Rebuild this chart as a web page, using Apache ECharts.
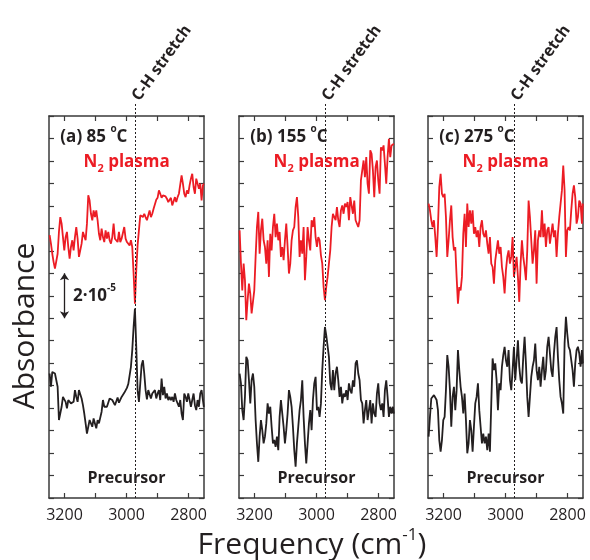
<!DOCTYPE html>
<html>
<head>
<meta charset="utf-8">
<script src="https://cdn.jsdelivr.net/npm/echarts@6/dist/echarts.min.js"></script>
<style>
  html, body { margin: 0; padding: 0; background: #fff; }
  #chart { width: 590px; height: 560px; }
</style>
</head>
<body>
<div id="chart"></div>
<script>
// wavenumber grid (cm-1), shared by every spectrum
const freq = [
  3248.0, 3243.7, 3239.4, 3235.1, 3230.8, 3226.5, 3222.2, 3217.9, 3213.6, 3209.3,
  3205.0, 3200.7, 3196.4, 3192.1, 3187.8, 3183.5, 3179.2, 3174.9, 3170.6, 3166.3,
  3162.0, 3157.7, 3153.4, 3149.1, 3144.8, 3140.5, 3136.2, 3131.9, 3127.6, 3123.3,
  3119.0, 3114.7, 3110.4, 3106.1, 3101.8, 3097.5, 3093.2, 3088.9, 3084.6, 3080.3,
  3076.0, 3071.7, 3067.4, 3063.1, 3058.8, 3054.5, 3050.2, 3045.9, 3041.6, 3037.3,
  3033.0, 3028.7, 3024.4, 3020.1, 3015.8, 3011.5, 3007.2, 3002.9, 2998.6, 2994.3,
  2990.0, 2985.7, 2981.4, 2977.1, 2972.8, 2968.5, 2964.2, 2959.9, 2955.6, 2951.3,
  2947.0, 2942.7, 2938.4, 2934.1, 2929.8, 2925.5, 2921.2, 2916.9, 2912.6, 2908.3,
  2904.0, 2899.7, 2895.4, 2891.1, 2886.8, 2882.5, 2878.2, 2873.9, 2869.6, 2865.3,
  2861.0, 2856.7, 2852.4, 2848.1, 2843.8, 2839.5, 2835.2, 2830.9, 2826.6, 2822.3,
  2818.0, 2813.7, 2809.4, 2805.1, 2800.8, 2796.5, 2792.2, 2787.9, 2783.6, 2779.3,
  2775.0, 2770.7, 2766.4, 2762.1, 2757.8, 2753.5, 2750.5
];

// absorbance, units of 1e-6, vertically offset for display
const plasmaA = [
  117.0, 113.2, 108.7, 105.0, 102.1, 102.8, 108.7, 118.4, 125.0, 122.1,
  116.1, 110.2, 116.1, 118.4, 111.7, 106.5, 111.7, 114.7, 110.2, 116.1,
  120.6, 115.4, 107.3, 106.5, 113.2, 118.4, 119.1, 114.7, 122.1, 134.7,
  132.4, 126.5, 123.6, 128.0, 125.0, 128.0, 123.6, 117.6, 114.7, 119.9,
  116.1, 113.9, 119.1, 115.4, 118.4, 114.7, 113.2, 116.1, 122.1, 115.4,
  115.4, 113.9, 118.4, 113.9, 115.4, 115.4, 120.6, 115.4, 113.9, 113.2,
  112.4, 114.7, 111.7, 99.9, 86.5, 101.3, 112.4, 119.1, 125.8, 125.0,
  125.0, 126.5, 125.0, 123.6, 124.3, 128.0, 125.0, 126.5, 128.7, 129.5,
  132.7, 133.6, 136.9, 135.4, 133.6, 134.7, 134.7, 134.2, 133.2, 131.7,
  132.4, 133.6, 130.2, 129.5, 133.9, 131.7, 133.9, 135.4, 135.4, 143.6,
  139.9, 135.4, 133.9, 136.9, 135.4, 139.1, 142.1, 144.3, 138.4, 135.4,
  142.1, 139.9, 137.6, 139.9, 132.4, 139.1, 139.9
];
const precursorA = [
  55.4, 49.5, 56.1, 56.9, 55.4, 55.4, 49.5, 34.7, 34.7, 40.6,
  45.0, 45.8, 42.8, 39.9, 43.6, 43.6, 42.1, 41.3, 42.8, 48.0,
  45.0, 42.8, 48.0, 48.0, 44.3, 41.3, 37.6, 33.2, 28.7, 28.7,
  34.7, 33.9, 31.7, 35.4, 33.2, 31.0, 34.7, 33.2, 32.4, 38.4,
  43.6, 40.6, 39.9, 40.6, 40.6, 44.3, 43.6, 43.6, 43.9, 41.3,
  42.1, 44.7, 42.4, 42.8, 45.0, 45.8, 46.8, 46.2, 49.0, 50.7,
  51.0, 58.4, 65.8, 76.1, 84.3, 67.3, 48.0, 42.8, 51.0, 59.1,
  61.3, 55.4, 48.0, 43.9, 48.0, 47.3, 44.3, 46.5, 45.8, 48.0,
  44.3, 46.5, 48.0, 43.6, 53.2, 45.8, 49.5, 44.3, 46.5, 43.6,
  45.0, 43.6, 45.0, 42.8, 46.5, 43.6, 44.3, 40.6, 43.6, 37.6,
  34.7, 46.5, 45.0, 42.8, 46.5, 43.6, 40.6, 43.6, 46.5, 41.3,
  39.1, 43.6, 40.6, 46.5, 48.0, 43.6, 40.6
];
const plasmaB = [
  119.1, 104.3, 92.4, 104.3, 96.9, 79.1, 88.0, 95.4, 91.0, 82.1,
  82.8, 92.4, 107.3, 120.6, 127.3, 108.7, 119.1, 124.3, 114.7, 111.7,
  104.3, 114.7, 98.4, 117.6, 110.2, 120.6, 126.5, 116.1, 122.1, 114.7,
  118.4, 107.3, 111.7, 105.8, 114.7, 122.1, 111.7, 99.9, 104.3, 114.7,
  119.1, 120.6, 129.5, 133.9, 125.0, 107.3, 114.7, 108.7, 120.6, 96.9,
  107.3, 120.6, 114.7, 110.2, 123.6, 120.6, 125.0, 116.1, 111.7, 116.1,
  114.7, 108.0, 104.3, 93.9, 88.0, 93.9, 98.4, 104.3, 110.2, 120.6,
  126.5, 126.5, 123.6, 129.5, 123.6, 120.6, 128.0, 130.2, 126.5, 131.0,
  129.5, 131.7, 123.6, 133.9, 130.2, 126.5, 132.4, 123.6, 123.6, 120.6,
  123.6, 141.3, 145.8, 150.2, 142.8, 151.7, 139.9, 135.4, 154.7, 153.2,
  145.8, 133.9, 147.3, 150.2, 141.3, 135.4, 156.1, 154.7, 156.9, 148.7,
  139.9, 151.7, 159.9, 151.7, 156.9, 156.1, 157.6
];
const precursorB = [
  55.4, 51.0, 39.1, 34.7, 45.0, 62.8, 61.3, 52.4, 42.1, 52.4,
  55.4, 49.5, 34.7, 24.3, 16.1, 27.3, 34.7, 30.2, 24.3, 27.3,
  33.2, 42.1, 37.6, 40.6, 31.7, 24.3, 25.8, 22.8, 27.3, 21.3,
  36.1, 43.6, 37.6, 31.7, 24.3, 30.2, 37.6, 48.0, 45.0, 40.6,
  31.7, 21.3, 13.9, 24.3, 31.7, 39.1, 43.6, 52.4, 36.1, 24.3,
  15.4, 24.3, 33.2, 39.1, 30.2, 43.6, 51.0, 53.9, 39.1, 40.6,
  36.1, 42.1, 56.9, 67.3, 76.1, 72.4, 71.7, 62.8, 51.0, 48.0,
  56.9, 48.0, 55.4, 58.4, 52.4, 45.0, 49.5, 42.1, 46.5, 45.0,
  48.0, 43.6, 51.0, 48.0, 46.5, 52.4, 49.5, 59.9, 61.3, 55.4,
  52.4, 43.6, 42.1, 33.2, 39.1, 43.6, 34.7, 39.1, 43.6, 33.2,
  42.1, 37.6, 36.1, 46.5, 51.0, 42.1, 39.1, 42.1, 36.1, 48.0,
  52.4, 45.0, 36.1, 40.6, 37.6, 40.6, 37.6
];
const plasmaC = [
  131.0, 128.0, 123.6, 120.6, 123.6, 116.1, 107.3, 120.6, 138.4, 144.3,
  135.4, 133.9, 135.4, 125.0, 107.3, 114.7, 123.6, 130.2, 116.1, 110.2,
  111.7, 98.4, 86.5, 93.9, 92.4, 98.4, 117.6, 126.5, 111.7, 131.0,
  120.6, 128.0, 122.1, 128.0, 117.6, 120.6, 116.1, 119.1, 111.7, 120.6,
  123.6, 117.6, 116.1, 119.1, 113.2, 108.7, 116.1, 104.3, 102.8, 95.4,
  105.8, 110.2, 114.7, 108.7, 111.7, 102.8, 98.4, 91.0, 101.3, 107.3,
  110.2, 104.3, 107.3, 116.1, 98.4, 102.8, 107.3, 98.4, 87.3, 104.3,
  114.7, 107.3, 102.8, 96.9, 110.2, 132.4, 125.0, 114.7, 104.3, 110.2,
  119.1, 95.4, 114.7, 119.1, 116.1, 128.0, 116.1, 122.1, 111.7, 119.1,
  120.6, 113.2, 117.6, 122.1, 116.1, 119.1, 107.3, 117.6, 125.0, 131.0,
  136.9, 148.0, 136.9, 107.3, 119.1, 120.6, 119.1, 128.0, 135.4, 139.1,
  133.9, 122.1, 125.0, 132.4, 131.0, 122.1, 131.0
];
const precursorC = [
  27.3, 36.1, 44.3, 45.0, 45.8, 45.0, 43.6, 39.1, 25.8, 20.6,
  25.8, 34.7, 36.1, 48.0, 63.6, 58.4, 48.0, 31.7, 45.0, 49.5,
  39.1, 48.0, 65.8, 56.9, 49.5, 45.0, 37.6, 46.5, 34.7, 19.9,
  24.3, 34.7, 30.2, 20.6, 31.7, 42.1, 45.0, 51.0, 39.1, 31.7,
  24.3, 28.7, 24.3, 27.3, 21.3, 28.7, 20.6, 42.1, 62.1, 56.9,
  59.9, 52.4, 39.1, 51.0, 48.0, 58.4, 63.6, 67.3, 61.3, 58.4,
  65.8, 52.4, 48.0, 56.9, 67.3, 52.4, 61.3, 70.2, 58.4, 52.4,
  51.0, 62.8, 71.7, 59.9, 45.0, 36.1, 45.0, 53.9, 58.4, 61.3,
  68.7, 56.9, 52.4, 58.4, 49.5, 56.9, 62.8, 52.4, 56.9, 67.3,
  71.7, 64.3, 56.9, 53.9, 64.3, 71.7, 76.1, 62.8, 52.4, 45.0,
  42.1, 37.6, 68.7, 80.6, 73.2, 67.3, 65.8, 65.8, 56.9, 49.5,
  59.9, 65.8, 67.3, 64.3, 58.4, 65.8, 59.9
];

const plasma = [plasmaA, plasmaB, plasmaC];
const precursor = [precursorA, precursorB, precursorC];
const temps = ['(a) 85 ', '(b) 155 ', '(c) 275 '];
const xTicks = [2800, 2900, 3000, 3100, 3200];
const xLabels = [2800, 3000, 3200];
const chStretch = 2972;
const scaleBar = [100, 80]; // 2e-5 arrow

const chart = echarts.init(document.getElementById('chart'));
const font = "'Open Sans', 'Noto Sans', sans-serif";
const red = '#ec1c24';
const ink = '#231f20';
const frame = '#3a3a3a';
const gridLefts = [49, 239, 428];

const grids = [], xAxes = [], yAxes = [], series = [];

const boldText = (size, color) => ({
    fontFamily: font, fontWeight: 'bold', fontSize: size, color: color
});

gridLefts.forEach((left, i) => {
    grids.push({ left: left, top: 116, width: 155, height: 382 });
    ['bottom', 'top'].forEach(pos => {
        xAxes.push({
            type: 'value', gridIndex: i, position: pos,
            min: 2750, max: 3250, inverse: true,
            axisLine: { show: true, onZero: false, lineStyle: { color: frame, width: 1.5 } },
            axisTick: { show: true, inside: true, length: 5, customValues: xTicks,
                lineStyle: { color: frame, width: 1.2 } },
            axisLabel: { show: pos === 'bottom', customValues: xLabels, margin: 9,
                formatter: v => String(v),
                fontFamily: font, fontSize: 16, color: ink },
            splitLine: { show: false }
        });
    });
    ['left', 'right'].forEach(pos => {
        yAxes.push({
            type: 'value', gridIndex: i, position: pos,
            min: 0, max: 170, interval: 10,
            axisLine: { show: true, onZero: false, lineStyle: { color: frame, width: 1.5 } },
            axisTick: { show: true, inside: true, length: 5, lineStyle: { color: frame, width: 1.2 } },
            axisLabel: { show: false },
            splitLine: { show: false }
        });
    });

    const plasmaSeries = {
        type: 'line', xAxisIndex: i * 2, yAxisIndex: i * 2,
        data: freq.map((f, k) => [f, plasma[i][k]]),
        symbol: 'none', lineStyle: { color: red, width: 1.8 }, z: 3
    };
    if (i === 0) {
        plasmaSeries.markLine = {
            silent: true, symbol: ['arrow', 'arrow'], symbolSize: 7,
            lineStyle: { color: ink, width: 1.3, type: 'solid' },
            label: { show: false },
            data: [[{ coord: [3200, scaleBar[0]] }, { coord: [3200, scaleBar[1]] }]]
        };
        plasmaSeries.markPoint = {
            silent: true, symbol: 'circle', symbolSize: 1,
            itemStyle: { color: 'rgba(0,0,0,0)' },
            data: [{
                coord: [3174, (scaleBar[0] + scaleBar[1]) / 2],
                label: {
                    show: true, position: 'right', distance: 0,
                    formatter: '{t|2·10}{s|-5}',
                    rich: {
                        t: Object.assign(boldText(17, ink), { lineHeight: 26 }),
                        s: Object.assign(boldText(10, ink), { verticalAlign: 'top' })
                    }
                }
            }]
        };
    }
    series.push(plasmaSeries);

    series.push({
        type: 'line', xAxisIndex: i * 2, yAxisIndex: i * 2,
        data: freq.map((f, k) => [f, precursor[i][k]]),
        symbol: 'none', lineStyle: { color: ink, width: 1.8 }, z: 2,
        clip: false,
        markLine: {
            silent: true, symbol: ['none', 'none'],
            lineStyle: { color: ink, width: 1, type: [2, 2] },
            label: { show: false },
            data: [[{ coord: [chStretch, 0] }, { coord: [chStretch, 170], y: 103 }]]
        },
        markPoint: {
            silent: true, symbol: 'circle', symbolSize: 1,
            itemStyle: { color: 'rgba(0,0,0,0)' },
            data: [
                {
                    coord: [chStretch, 170], y: 99,
                    label: Object.assign(boldText(16, ink), {
                        show: true, position: 'right', distance: 0, rotate: 54,
                        formatter: 'C-H stretch'
                    })
                },
                {
                    coord: [3215, 160.4],
                    label: {
                        show: true, position: 'right', distance: 0,
                        formatter: '{t|' + temps[i] + '}{s|o}{t|C}',
                        rich: {
                            t: Object.assign(boldText(17, ink), { lineHeight: 26 }),
                            s: Object.assign(boldText(10, ink), { verticalAlign: 'top' })
                        }
                    }
                },
                {
                    coord: [3140, 149.5],
                    label: {
                        show: true, position: 'right', distance: 0,
                        formatter: '{t|N}{s|2}{t| plasma}',
                        rich: {
                            t: Object.assign(boldText(17, red), { lineHeight: 24 }),
                            s: Object.assign(boldText(11, red), { verticalAlign: 'bottom' })
                        }
                    }
                },
                {
                    coord: [3000, 8.5],
                    label: Object.assign(boldText(16, ink), {
                        show: true, position: 'inside', formatter: 'Precursor'
                    })
                }
            ]
        }
    });
});

chart.setOption({
    animation: false,
    backgroundColor: '#fff',
    grid: grids,
    xAxis: xAxes,
    yAxis: yAxes,
    series: series,
    graphic: [
        {
            type: 'text', x: 25, y: 326, rotation: Math.PI / 2,
            style: { text: 'Absorbance', fontFamily: font, fontSize: 30, fill: ink,
                align: 'center', verticalAlign: 'middle' }
        },
        {
            type: 'text', x: 312, y: 545,
            style: {
                text: '{n|Frequency (cm}{s|-1}{n|)}',
                align: 'center', verticalAlign: 'middle',
                rich: {
                    n: { fontFamily: font, fontSize: 30, fill: ink, lineHeight: 36 },
                    s: { fontFamily: font, fontSize: 17, fill: ink, verticalAlign: 'top' }
                }
            }
        }
    ]
});
</script>
</body>
</html>
